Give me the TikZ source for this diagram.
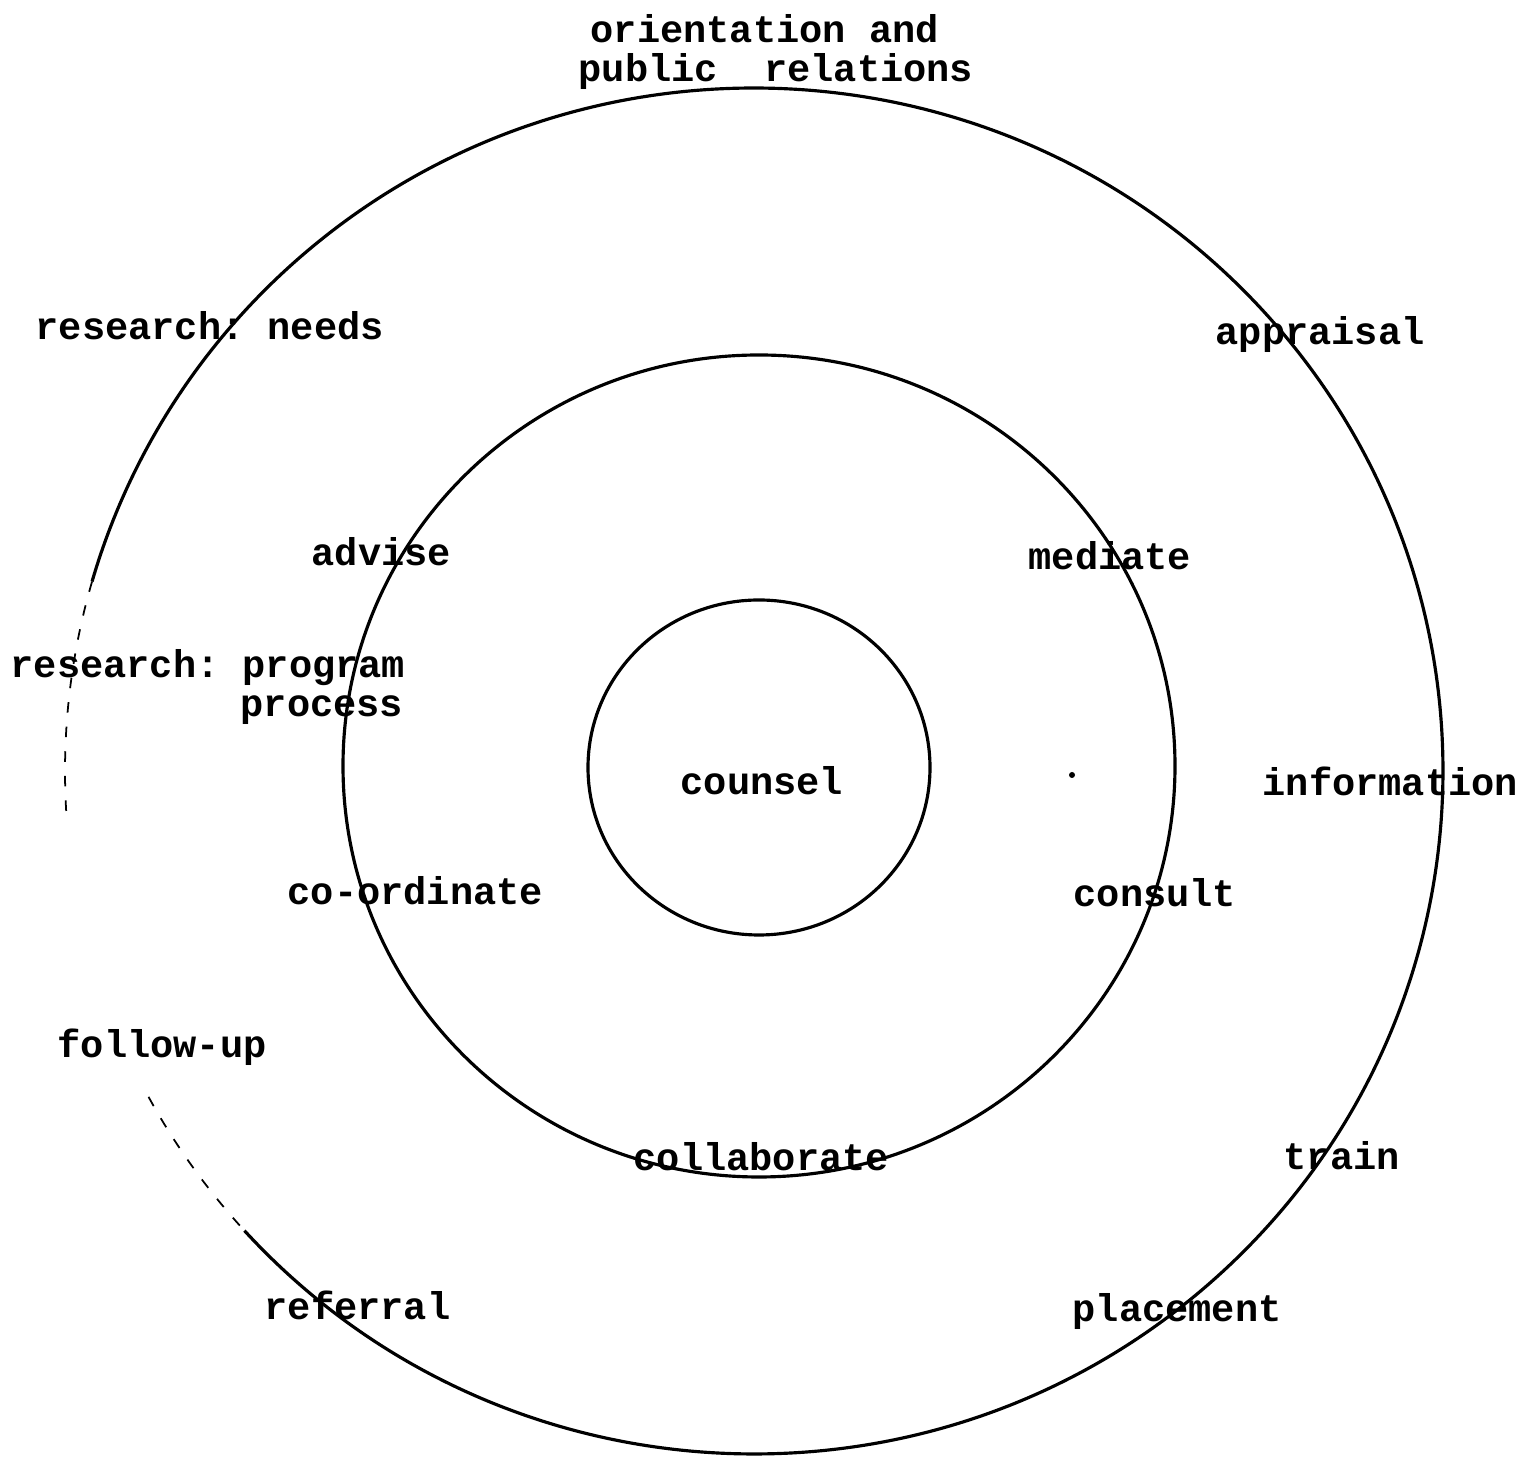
\documentclass[tikz,border=0pt]{standalone}
\usepackage{fontspec}
\setmonofont{Liberation Mono}
\tikzset{
  ring/.style={line width=.9pt},
  faintring/.style={line width=.5pt,dash pattern=on 3pt off 4pt},
  word/.style={anchor=base west,inner sep=0pt,font=\ttfamily\bfseries\fontsize{11}{13}\selectfont},
}
\begin{document}
\begin{tikzpicture}[x=1cm,y=1cm]
  \useasboundingbox (0,0) rectangle (15.24,14.58);

  % Three rings, nearly concentric.
  \draw[ring] (7.59,6.905) ellipse[x radius=1.71,y radius=1.675];
  \draw[ring] (7.59,6.92) ellipse[x radius=4.16,y radius=4.11];
  \draw[ring] (7.54,6.87) ++(-137.7:6.89 and 6.83)
    arc[start angle=-137.7,end angle=163.9,x radius=6.89,y radius=6.83];
  % Faded part of the outer ring on the left.
  \draw[faintring] (7.54,6.87) ++(163.9:6.89 and 6.83)
    arc[start angle=163.9,end angle=184,x radius=6.89,y radius=6.83];
  \draw[faintring] (7.54,6.87) ++(208.5:6.89 and 6.83)
    arc[start angle=208.5,end angle=222.3,x radius=6.89,y radius=6.83];
  \fill (10.72,6.83) circle (.03);

  % Centre.
  \node[word] (counsel) at (6.80,6.63) {counsel};

  % Middle ring.
  \node[word] (advise) at (3.11,8.92) {advise};
  \node[word] (mediate) at (10.28,8.88) {mediate};
  \node[word] (coord) at (2.87,5.53) {co-ordinate};
  \node[word] (consult) at (10.73,5.51) {consult};
  \node[word] (collab) at (6.33,2.87) {collaborate};

  % Outer ring.
  \node[word] (orient) at (5.90,14.15) {orientation and};
  \node[word] (public) at (5.78,13.76) {public\ \ relations};
  \node[word] (needs) at (.35,11.18) {research: needs};
  \node[word] (appraisal) at (12.15,11.13) {appraisal};
  \node[word] (program) at (.10,7.80) {research: program};
  \node[word] (process) at (2.40,7.41) {process};
  \node[word] (information) at (12.62,6.62) {information};
  \node[word] (followup) at (.57,4.00) {follow-up};
  \node[word] (train) at (12.83,2.88) {train};
  \node[word] (referral) at (2.64,1.38) {referral};
  \node[word] (placement) at (10.72,1.36) {placement};
\end{tikzpicture}
\end{document}
